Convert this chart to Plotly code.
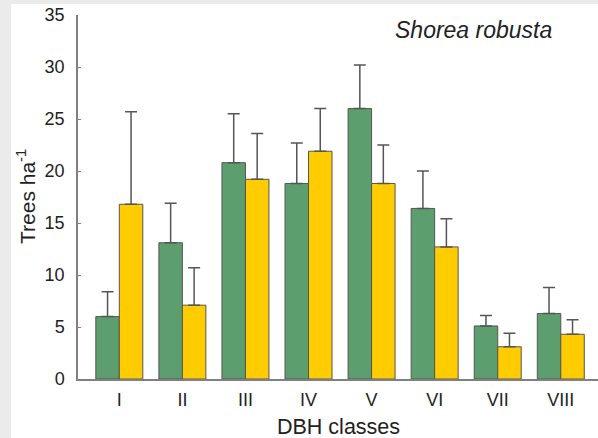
import plotly.graph_objects as go

categories = ["I", "II", "III", "IV", "V", "VI", "VII", "VIII"]
green_vals = [6.0, 13.1, 20.8, 18.8, 26.0, 16.4, 5.1, 6.3]
green_err_top = [8.4, 16.9, 25.5, 22.7, 30.2, 20.0, 6.1, 8.8]
yellow_vals = [16.8, 7.1, 19.2, 21.9, 18.8, 12.7, 3.1, 4.3]
yellow_err_top = [25.7, 10.7, 23.6, 26.0, 22.5, 15.4, 4.4, 5.7]

green_err = [t - v for t, v in zip(green_err_top, green_vals)]
yellow_err = [t - v for t, v in zip(yellow_err_top, yellow_vals)]

FONT = "Liberation Sans, Arial, sans-serif"
TXT = "#222222"
AX = "#808080"

fig = go.Figure()
for vals, err, col in [(green_vals, green_err, "#5c9e6e"), (yellow_vals, yellow_err, "#ffcc00")]:
    fig.add_trace(go.Bar(
        x=categories, y=vals,
        marker=dict(color=col, line=dict(color="#555555", width=1)),
        error_y=dict(type="data", array=err, arrayminus=[0] * len(err), symmetric=False,
                     color="#555555", thickness=1.5, width=6),
        showlegend=False,
    ))

fig.update_layout(
    width=598, height=438,
    margin=dict(l=78, r=0, t=15, b=59),
    paper_bgcolor="#ebebeb", plot_bgcolor="white",
    barmode="group", bargap=0.255, bargroupgap=0,
    font=dict(family=FONT, size=18, color=TXT),
    shapes=[dict(type="rect", xref="paper", yref="paper",
                 x0=-0.1288, x1=1.01, y0=-0.17, y1=1.0302,
                 fillcolor="white", line=dict(width=0), layer="below")],
    annotations=[
        dict(text="<i>Shorea robusta</i>", xref="paper", yref="paper",
             x=0.915, y=0.959, xanchor="right", yanchor="middle",
             showarrow=False, font=dict(family=FONT, size=23, color=TXT)),
        dict(text="DBH classes", xref="paper", yref="paper",
             x=0.5, y=(379 - 426.5) / 364, xanchor="center", yanchor="middle",
             showarrow=False, borderpad=0, font=dict(family=FONT, size=21.5, color=TXT)),
        dict(text="Trees ha<sup>-1</sup>", xref="paper", yref="paper",
             x=(26 - 78) / 520, y=0.5, xanchor="center", yanchor="middle",
             textangle=-90, showarrow=False,
             font=dict(family=FONT, size=21, color=TXT)),
    ],
)
fig.update_xaxes(
    range=[-0.655, 7.59], showline=True, linecolor=AX, linewidth=1.5,
    ticks="", showgrid=False, zeroline=False,
    tickfont=dict(size=18, color=TXT), ticklabelstandoff=4,
)
fig.update_yaxes(
    range=[0, 35], dtick=5, showline=True, linecolor=AX, linewidth=1.5,
    ticks="inside", ticklen=3, tickcolor=AX, showgrid=False, zeroline=False,
    tickfont=dict(size=18, color=TXT), ticklabelstandoff=8,
)

fig.write_html("out.html", config={"displayModeBar": False},
               post_script="document.body.style.margin='0';document.body.style.overflow='hidden';")
